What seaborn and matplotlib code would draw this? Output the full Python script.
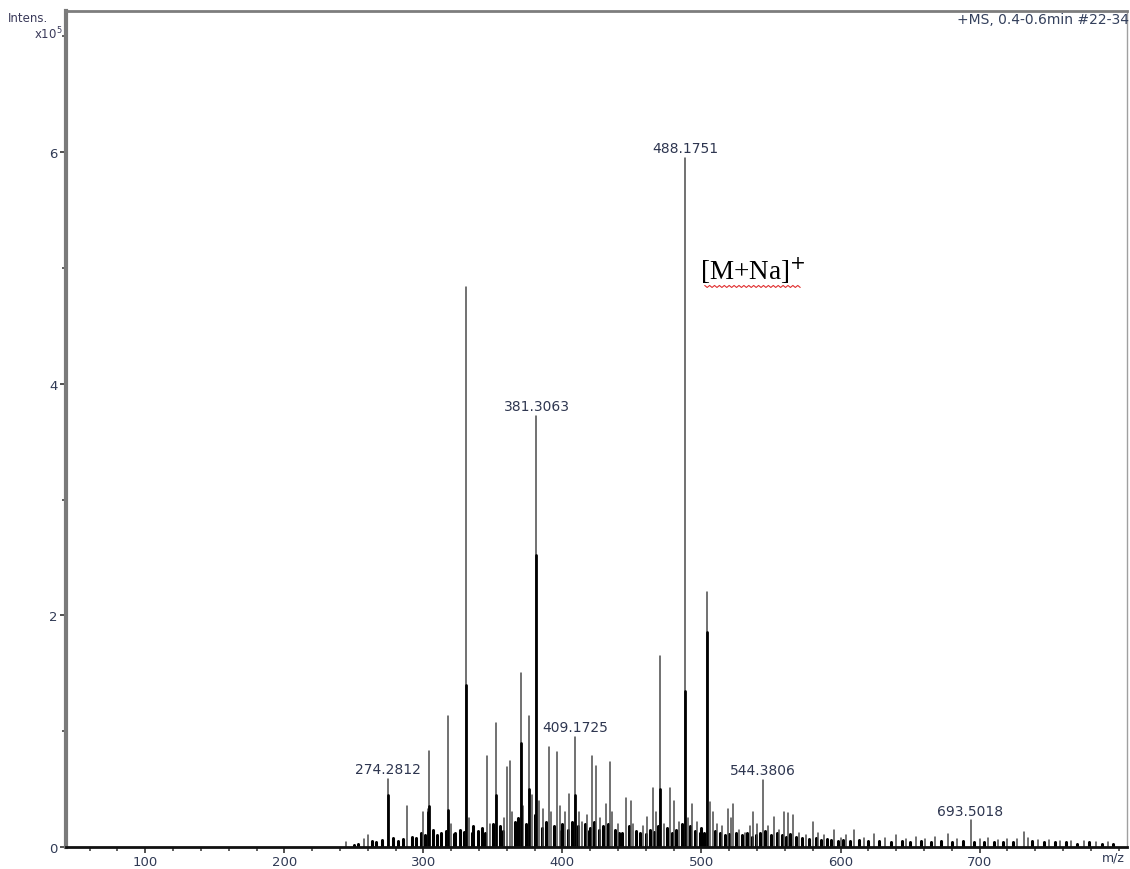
import numpy as np
import pandas as pd
import matplotlib
matplotlib.use("Agg")
import matplotlib.pyplot as plt
from matplotlib.ticker import MultipleLocator
import seaborn as sns

# ---- data (m/z, intensity in units of 1e5) ----
peak_mz = [244, 257, 260, 274.28, 288, 300, 303, 304, 318, 320, 331, 333,
           346, 348, 352.5, 358, 360, 362, 364, 370, 372, 376, 378, 381.31,
           383, 386, 390, 392, 396, 398, 402, 405, 409.17, 412, 414, 418,
           421, 424, 427, 431, 434, 436, 440, 446, 449, 451, 458, 461, 465,
           467, 470.5, 473, 477.7, 480, 484, 488.18, 490, 493.5, 497, 504,
           506, 508, 511, 515, 519, 521, 523, 527, 531, 535, 537, 540,
           544.38, 548, 552, 556, 559, 562, 566, 570, 575, 580, 584, 588,
           595, 600, 604, 610, 617, 624, 632, 640, 647, 654, 661, 668, 677,
           684, 693.5, 700, 706, 713, 720, 727, 731.6, 735, 742, 750, 758,
           766, 775, 784, 792]
peak_int = [0.04, 0.07, 0.10, 0.59, 0.35, 0.30, 0.33, 0.83, 1.13, 0.20, 4.84, 0.25,
            0.79, 0.20, 1.07, 0.25, 0.69, 0.74, 0.30, 1.50, 0.35, 1.13, 0.45, 3.72,
            0.40, 0.33, 0.86, 0.30, 0.82, 0.35, 0.30, 0.46, 0.95, 0.30, 0.22, 0.28,
            0.79, 0.70, 0.25, 0.37, 0.73, 0.30, 0.20, 0.42, 0.40, 0.20, 0.18, 0.26, 0.51,
            0.30, 1.65, 0.20, 0.51, 0.40, 0.22, 5.95, 0.25, 0.37, 0.22, 2.20,
            0.39, 0.30, 0.20, 0.18, 0.33, 0.25, 0.37, 0.15, 0.12, 0.18, 0.30, 0.20,
            0.58, 0.18, 0.26, 0.15, 0.30, 0.29, 0.28, 0.12, 0.10, 0.22, 0.12, 0.10,
            0.15, 0.08, 0.10, 0.15, 0.08, 0.11, 0.08, 0.10, 0.07, 0.09, 0.07, 0.09, 0.11,
            0.07, 0.23, 0.07, 0.08, 0.06, 0.07, 0.07, 0.13, 0.08, 0.06, 0.06, 0.05,
            0.05, 0.05, 0.04, 0.04]

# darker (unresolved, broader) lower part of the strongest peaks
core_mz = [274.28, 303, 304, 318, 331, 352.5, 370, 376, 381.31, 409.17, 470.5, 488.18, 504]
core_int = [0.45, 0.30, 0.35, 0.32, 1.40, 0.45, 0.90, 0.50, 2.52, 0.45, 0.50, 1.35, 1.86]

# low-level baseline "grass"
grass_mz = [250, 253, 263, 266, 270, 278, 282, 285, 292, 295, 298, 301, 307, 310,
            313, 316, 322, 323, 326, 329, 335, 336, 339, 342, 344, 350, 355, 357,
            366, 368, 374, 380, 385, 388, 394, 399, 400, 404, 407, 411, 416, 419,
            420, 423, 426, 429, 433, 438, 441, 443, 448, 453, 456, 460, 463, 466,
            469, 475, 479, 482, 486, 492, 495, 499, 500, 502, 510, 513, 517, 520,
            525, 529, 533, 536, 539, 542, 546, 550, 554, 558, 561, 564, 568, 572,
            577, 582, 586, 590, 593, 598, 602, 607, 613, 620, 628, 636, 644, 650,
            658, 665, 672, 680, 688, 696, 703, 710, 717, 724, 738, 746, 754, 762,
            770, 779, 788, 796]
grass_int = [0.02, 0.03, 0.05, 0.04, 0.06, 0.08, 0.05, 0.07, 0.09, 0.08, 0.12, 0.10, 0.15, 0.10,
             0.12, 0.14, 0.11, 0.12, 0.15, 0.13, 0.12, 0.18, 0.14, 0.16, 0.12, 0.20, 0.18, 0.14,
             0.22, 0.25, 0.20, 0.28, 0.16, 0.22, 0.18, 0.14, 0.20, 0.15, 0.22, 0.18, 0.20, 0.14,
             0.16, 0.22, 0.15, 0.18, 0.20, 0.15, 0.12, 0.12, 0.18, 0.14, 0.12, 0.11, 0.15, 0.13,
             0.18, 0.16, 0.12, 0.15, 0.20, 0.18, 0.14, 0.12, 0.16, 0.12, 0.14, 0.12, 0.10, 0.11,
             0.12, 0.10, 0.12, 0.09, 0.10, 0.12, 0.14, 0.10, 0.12, 0.10, 0.09, 0.11, 0.09, 0.08,
             0.07, 0.08, 0.06, 0.07, 0.06, 0.05, 0.06, 0.05, 0.06, 0.05, 0.05, 0.04, 0.05, 0.04,
             0.05, 0.04, 0.05, 0.04, 0.05, 0.04, 0.04, 0.04, 0.04, 0.04, 0.05, 0.04, 0.04, 0.04,
             0.03, 0.04, 0.03, 0.03]

label_mz = [274.28, 381.31, 409.17, 488.18, 544.38, 693.5]
label_int = [0.59, 3.72, 0.95, 5.95, 0.58, 0.23]
label_txt = ["274.2812", "381.3063", "409.1725", "488.1751", "544.3806", "693.5018"]

x_ticks = [100, 200, 300, 400, 500, 600, 700]
y_ticks = [0, 2, 4, 6]


def sticks(mz, inten):
    rows = []
    for i, (m, v) in enumerate(zip(mz, inten)):
        rows.append({"mz": m, "I": 0.0, "pid": i})
        rows.append({"mz": m, "I": v, "pid": i})
    return pd.DataFrame(rows)


sns.set_theme(style="white")
plt.rcParams["font.family"] = ["DejaVu Sans"]

fig = plt.figure(figsize=(11.3, 8.7), dpi=100)
ax = fig.add_axes([66 / 1130, 22 / 870, (1127 - 66) / 1130, (848 - 12) / 870])

sns.lineplot(data=sticks(grass_mz, grass_int), x="mz", y="I", units="pid",
             estimator=None, color="black", lw=2.2, ax=ax, legend=False)
sns.lineplot(data=sticks(peak_mz, peak_int), x="mz", y="I", units="pid",
             estimator=None, color="#4a4a4a", lw=1.1, ax=ax, legend=False)
sns.lineplot(data=sticks(core_mz, core_int), x="mz", y="I", units="pid",
             estimator=None, color="black", lw=2.0, ax=ax, legend=False)

ax.set_xlim(43, 806)
ax.set_ylim(0, 7.22)
ax.set_xlabel("")
ax.set_ylabel("")
ax.set_xticks(x_ticks)
ax.set_yticks(y_ticks)
ax.xaxis.set_minor_locator(MultipleLocator(20))
ax.yaxis.set_minor_locator(MultipleLocator(1))
tick_col = "#303a55"
ax.tick_params(axis="both", which="major", direction="out", length=4, width=1.2,
               color="#333333", labelsize=9.5, labelcolor=tick_col, bottom=True, left=True, pad=2)
ax.tick_params(axis="both", which="minor", direction="out", length=3, width=1.2,
               color="#444444", bottom=True, left=True)

for side, col, lw in [("left", "#7a7a7a", 3.0), ("top", "#7d7d7d", 2.0),
                      ("right", "#a0a0a0", 1.0), ("bottom", "#111111", 2.0)]:
    ax.spines[side].set_visible(True)
    ax.spines[side].set_color(col)
    ax.spines[side].set_linewidth(lw)

# peak labels
for m, v, t in zip(label_mz, label_int, label_txt):
    ax.annotate(t, (m, v), xytext=(0, 2), textcoords="offset points",
                ha="center", va="bottom", fontsize=10, color="#2e3650")

# texts
fig.text(8 / 1130, 1 - 18 / 870, "Intens.", fontsize=8.5, color="#3a3a5a", ha="left", va="center")
fig.text(63 / 1130, 1 - 34 / 870, "x10$^5$", fontsize=8.5, color="#3a3a5a", ha="right", va="center")
fig.text(957 / 1130, 1 - 20 / 870, "+MS, 0.4-0.6min #22-34", fontsize=10,
         color="#34405c", ha="left", va="center")
fig.text(1113 / 1130, 1 - 858 / 870, "m/z", fontsize=9, color=tick_col, ha="center", va="center")

ax.text(0.5975, 0.691, "[M+Na]$^{+}$", transform=ax.transAxes, fontsize=19.5,
        family=["Liberation Serif", "DejaVu Serif"], color="black", ha="left", va="center")
# spell-check squiggle under the annotation
sq_x = np.linspace(0.602, 0.692, 40)
sq_y = 0.6705 + 0.0012 * np.array([(-1) ** k for k in range(40)])
ax.plot(sq_x, sq_y, transform=ax.transAxes, color="#e03030", lw=0.8)

fig.savefig("out.png", dpi=100)
